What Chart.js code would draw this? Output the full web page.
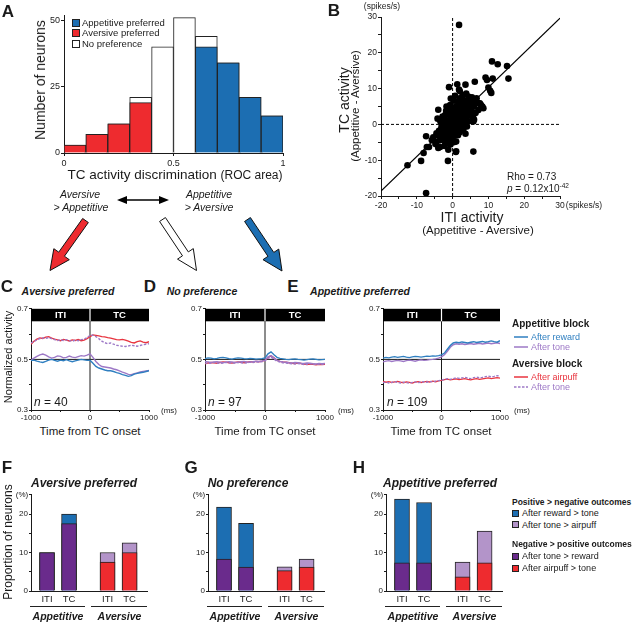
<!DOCTYPE html>
<html>
<head>
<meta charset="utf-8">
<script src="https://cdn.jsdelivr.net/npm/chart.js@4.4.0/dist/chart.umd.min.js"></script>
<style>
  body { margin: 0; background: #fff; }
  #stage { position: relative; width: 640px; height: 623px; overflow: hidden; font-family: "Liberation Sans", Arial, sans-serif; color: #1a1a1a; }
  #stage canvas { position: absolute; }
  .t { position: absolute; white-space: nowrap; line-height: 1; }
  .t sup { font-size: 0.65em; vertical-align: 0.55em; line-height: 0; }
  .sq { position: absolute; border: 1px solid #222; box-sizing: border-box; }
  svg { position: absolute; left: 0; top: 0; }
</style>
</head>
<body>
<div id="stage"></div>
<script>
// ---- A: histogram of ROC area (neuron counts per bin) ----
const rocBins = [0.05, 0.15, 0.25, 0.35, 0.45, 0.55, 0.65, 0.75, 0.85, 0.95];
const aversivePref = [3, 7, 11, 19, 0, 0, 0, 0, 0, 0];
const noPref = [0, 0, 0, 2, 40, 51, 4, 0, 0, 0];
const appetitivePref = [0, 0, 0, 0, 0, 0, 40, 34, 21, 14];

// ---- B: ITI vs TC activity difference (spikes/s) ----
const scatterPts = [
  [1.8, 27.8], [11.0, 17.6], [12.6, 16.8], [15.2, 16.3], [15.6, 12.8], [11.2, 12.8], [9.2, 13.1], [9.6, 12.4],
  [6.2, 11.9], [3.6, 11.1], [1.3, 11.2], [-1.0, 10.4], [10.0, 10.3], [10.5, 9.4], [10.8, 8.8], [2.0, 9.3],
  [0.7, 8.0], [1.8, 9.7], [-4.0, 4.1], [-4.2, 1.6], [8.6, 4.5], [7.9, 5.5], [7.5, 5.8], [6.0, 1.3],
  [5.8, -7.6], [-1.2, -7.1], [1.0, -7.5], [1.0, -4.8], [-7.4, -3.3], [-5.8, -4.4], [-7.2, -6.3], [-8.1, -8.0],
  [-1.3, -10.2], [-4.0, -6.6], [-4.8, -5.5], [-3.5, -4.4], [-12.6, -11.4], [-8.8, -10.2], [-7.4, -19.2], [-6.6, -6.3],
  [-3.5, -6.3], [-4.5, -4.9], [-2.0, -4.9], [0.9, -7.7], [6.7, 7.3], [7.6, 5.9], [8.3, 5.0], [7.2, 4.0],
  [5.3, 3.1], [5.8, 1.7], [4.4, 7.8], [3.0, 6.8], [3.9, 5.9], [2.0, 7.3], [1.6, 5.0], [-0.7, 5.4],
  [-1.7, 5.0], [-2.1, 2.6], [-2.6, 0.7], [-3.1, -0.7], [-3.3, -2.1], [-4.5, -2.5], [-5.4, -3.6],
  [-3.0, -2.5], [-2.6, -1.8], [-2.2, -3.0], [-2.0, -1.0], [-1.8, -2.2], [-1.5, -0.5], [-1.4, -1.6], [-1.2, 0.4],
  [-1.0, -1.2], [-0.9, -2.6], [-0.8, 0.8], [-0.6, -0.3], [-0.5, 1.5], [-0.4, -1.0], [-0.3, 0.2], [-0.2, 2.2],
  [-0.1, -0.6], [0.0, 0.9], [0.1, -1.8], [0.2, 1.6], [0.3, 0.3], [0.4, 2.8], [0.5, -0.4], [0.6, 1.1],
  [0.7, 3.4], [0.8, 0.0], [0.9, 2.0], [1.0, -1.0], [1.1, 1.4], [1.2, 3.0], [1.3, 0.5], [1.4, 4.2],
  [1.5, 2.3], [1.6, -0.3], [1.7, 1.0], [1.8, 3.6], [1.9, 2.6], [2.0, 0.2], [2.1, 1.8], [2.2, 4.8],
  [2.3, 3.0], [2.4, -0.8], [2.5, 2.2], [2.6, 5.6], [2.7, 1.2], [2.8, 3.8], [2.9, 0.6], [3.0, 2.6],
  [3.1, 4.4], [3.2, 1.6], [3.3, 6.2], [3.4, 3.2], [3.5, 0.2], [3.6, 2.0], [3.7, 5.0], [3.8, 3.6],
  [3.9, 1.2], [4.0, 4.2], [4.1, 6.6], [4.2, 2.4], [4.3, 5.4], [4.4, 0.8], [4.5, 3.4], [4.6, 7.0],
  [4.8, 4.6], [5.0, 2.4], [5.2, 5.8], [5.4, 3.6], [5.6, 6.6], [-2.4, 0.2], [-2.8, -0.6], [-3.2, -1.4],
  [-3.6, -3.2], [-2.5, -4.0], [-1.6, -3.4], [-0.6, -2.0], [0.4, -2.4], [-1.9, 1.2], [-0.9, 2.6], [0.1, 3.8],
  [-0.4, 4.4], [-1.3, 3.4], [0.9, 5.0], [1.6, 6.0], [2.4, 6.8], [0.6, -3.2], [1.4, -2.0], [-3.8, -1.8],
  [-4.2, -3.0], [-2.0, -5.2], [-1.2, -4.2], [-0.2, -3.8], [1.5, -3.0], [3.0, -1.5], [4.0, -0.6], [5.8, 0.8],
  [6.4, 3.2], [6.0, 5.0], [6.8, 6.2], [5.4, 7.6], [2.8, 8.2], [3.8, 8.6], [0.4, 6.6], [-0.5, 7.2],
  [-1.8, 3.8], [-2.8, 2.2], [-3.4, 0.8], [-2.2, -6.0], [-0.6, -5.6], [0.3, -5.0], [2.0, -2.2], [3.6, -2.6]
];
const fitLineX = [-20, 30];
const fitLineY = [-18.6, 29.7];
const rhoText = 'Rho = 0.73';

// ---- C-E: normalized activity, 50 ms steps ----
const timeMs = [-1000, -950, -900, -850, -800, -750, -700, -650, -600, -550, -500, -450, -400, -350, -300, -250, -200, -150, -100, -50, 0,
  50, 100, 150, 200, 250, 300, 350, 400, 450, 500, 550, 600, 650, 700, 750, 800, 850, 900, 950, 1000];

const cReward = [0.495, 0.497, 0.493, 0.490, 0.488, 0.492, 0.497, 0.500, 0.496, 0.493, 0.497, 0.495, 0.499, 0.494, 0.491, 0.494, 0.497, 0.500, 0.498, 0.496, 0.497,
  0.485, 0.472, 0.466, 0.462, 0.458, 0.455, 0.455, 0.452, 0.448, 0.445, 0.440, 0.437, 0.433, 0.436, 0.442, 0.445, 0.447, 0.449, 0.452, 0.455];
const cAppTone = [0.497, 0.505, 0.512, 0.518, 0.521, 0.517, 0.510, 0.505, 0.508, 0.514, 0.512, 0.506, 0.508, 0.513, 0.509, 0.507, 0.511, 0.515, 0.513, 0.517, 0.522,
  0.508, 0.492, 0.480, 0.472, 0.470, 0.468, 0.466, 0.462, 0.459, 0.455, 0.450, 0.446, 0.441, 0.440, 0.444, 0.447, 0.450, 0.452, 0.454, 0.456];
const cAirpuff = [0.560, 0.572, 0.580, 0.585, 0.583, 0.588, 0.590, 0.584, 0.580, 0.577, 0.574, 0.579, 0.576, 0.573, 0.577, 0.575, 0.579, 0.574, 0.576, 0.582, 0.590,
  0.597, 0.595, 0.593, 0.590, 0.589, 0.586, 0.584, 0.581, 0.578, 0.577, 0.579, 0.576, 0.572, 0.567, 0.565, 0.570, 0.573, 0.568, 0.566, 0.570];
const cAveTone = [0.565, 0.570, 0.578, 0.582, 0.585, 0.583, 0.586, 0.582, 0.578, 0.575, 0.577, 0.575, 0.578, 0.574, 0.572, 0.576, 0.574, 0.578, 0.580, 0.586, 0.595,
  0.596, 0.590, 0.582, 0.572, 0.566, 0.562, 0.565, 0.560, 0.556, 0.554, 0.552, 0.551, 0.553, 0.556, 0.554, 0.552, 0.555, 0.558, 0.560, 0.562];

const dReward = [0.503, 0.506, 0.505, 0.502, 0.504, 0.507, 0.508, 0.506, 0.503, 0.501, 0.504, 0.506, 0.505, 0.503, 0.502, 0.504, 0.503, 0.501, 0.502, 0.503, 0.506,
  0.522, 0.530, 0.518, 0.508, 0.504, 0.502, 0.500, 0.499, 0.501, 0.502, 0.500, 0.499, 0.497, 0.499, 0.501, 0.502, 0.500, 0.498, 0.499, 0.500];
const dAppTone = [0.492, 0.490, 0.488, 0.490, 0.491, 0.489, 0.487, 0.489, 0.491, 0.490, 0.488, 0.489, 0.491, 0.492, 0.490, 0.489, 0.491, 0.493, 0.492, 0.494, 0.497,
  0.510, 0.515, 0.505, 0.496, 0.492, 0.490, 0.489, 0.487, 0.486, 0.488, 0.487, 0.485, 0.484, 0.486, 0.485, 0.483, 0.482, 0.484, 0.483, 0.484];
const dAirpuff = [0.482, 0.486, 0.488, 0.487, 0.485, 0.488, 0.490, 0.489, 0.487, 0.486, 0.488, 0.490, 0.489, 0.487, 0.489, 0.491, 0.490, 0.492, 0.491, 0.493, 0.496,
  0.508, 0.514, 0.506, 0.496, 0.492, 0.490, 0.489, 0.487, 0.485, 0.484, 0.486, 0.484, 0.482, 0.480, 0.482, 0.481, 0.479, 0.481, 0.480, 0.481];
const dAveTone = [0.486, 0.484, 0.486, 0.488, 0.486, 0.484, 0.486, 0.488, 0.487, 0.485, 0.486, 0.488, 0.487, 0.485, 0.487, 0.489, 0.488, 0.490, 0.489, 0.491, 0.494,
  0.504, 0.509, 0.501, 0.493, 0.489, 0.487, 0.486, 0.484, 0.483, 0.482, 0.484, 0.482, 0.480, 0.481, 0.483, 0.482, 0.480, 0.482, 0.481, 0.482];

const eReward = [0.505, 0.508, 0.506, 0.509, 0.511, 0.508, 0.510, 0.512, 0.509, 0.507, 0.510, 0.512, 0.511, 0.509, 0.511, 0.513, 0.512, 0.514, 0.513, 0.515, 0.518,
  0.525, 0.540, 0.555, 0.565, 0.568, 0.566, 0.569, 0.567, 0.565, 0.568, 0.570, 0.567, 0.569, 0.571, 0.568, 0.570, 0.573, 0.570, 0.568, 0.574];
const eAppTone = [0.490, 0.493, 0.495, 0.492, 0.494, 0.496, 0.494, 0.492, 0.495, 0.497, 0.495, 0.493, 0.496, 0.498, 0.496, 0.497, 0.499, 0.500, 0.502, 0.505, 0.510,
  0.518, 0.532, 0.548, 0.558, 0.562, 0.560, 0.562, 0.559, 0.561, 0.563, 0.560, 0.562, 0.564, 0.561, 0.563, 0.565, 0.562, 0.564, 0.566, 0.563];
const eAirpuff = [0.413, 0.410, 0.412, 0.409, 0.411, 0.413, 0.410, 0.408, 0.411, 0.409, 0.407, 0.410, 0.412, 0.409, 0.411, 0.413, 0.411, 0.414, 0.412, 0.415, 0.417,
  0.420, 0.422, 0.419, 0.421, 0.423, 0.420, 0.422, 0.424, 0.421, 0.419, 0.422, 0.424, 0.421, 0.423, 0.425, 0.427, 0.424, 0.426, 0.428, 0.426];
const eAveTone = [0.408, 0.410, 0.407, 0.409, 0.412, 0.409, 0.407, 0.410, 0.408, 0.406, 0.409, 0.411, 0.408, 0.410, 0.412, 0.410, 0.413, 0.411, 0.414, 0.416, 0.418,
  0.421, 0.424, 0.421, 0.424, 0.427, 0.425, 0.427, 0.429, 0.426, 0.424, 0.428, 0.430, 0.427, 0.429, 0.432, 0.434, 0.431, 0.433, 0.436, 0.434];

// ---- F-H: proportion of neurons (%), [ITI, TC] ----
const barCats = ['ITI', 'TC', 'ITI', 'TC'];
const barGroups = ['Appetitive', 'Aversive'];
const fToneGtReward = [10.0, 17.5];
const fRewardGtTone = [0.0, 2.5];
const fAirpuffGtTone = [7.5, 10.0];
const fToneGtAirpuff = [2.5, 2.5];
const gToneGtReward = [8.3, 6.2];
const gRewardGtTone = [13.5, 11.4];
const gAirpuffGtTone = [5.3, 6.2];
const gToneGtAirpuff = [1.0, 2.1];
const hToneGtReward = [7.3, 7.3];
const hRewardGtTone = [16.6, 15.7];
const hAirpuffGtTone = [3.7, 7.3];
const hToneGtAirpuff = [3.8, 8.3];

// colours
const INK = '#1a1a1a';
const C_BLUE = '#1c6eb2';
const C_RED = '#ee2b2f';
const C_PURPLE = '#6a2b8c';
const C_LPURPLE = '#b394c9';
const L_BLUE = '#2f7fc0';
const L_PURPLE = '#9d78c6';
const L_RED = '#e8343f';

// bar centres on a 0-10 axis (layout only)
const BAR_X = [1.38, 3.28, 6.6, 8.5];

Chart.defaults.font.family = '"Liberation Sans", Arial, sans-serif';
Chart.defaults.color = INK;

const stage = document.getElementById('stage');

function placeChart(area, margins, config) {
  const [L, T, R, B] = area;
  const [ml, mt, mr, mb] = margins;
  const w = R - L + ml + mr, h = B - T + mt + mb;
  const cv = document.createElement('canvas');
  cv.width = w; cv.height = h;
  cv.style.left = (L - ml) + 'px';
  cv.style.top = (T - mt) + 'px';
  cv.style.width = w + 'px';
  cv.style.height = h + 'px';
  stage.appendChild(cv);
  const o = config.options;
  o.responsive = false;
  o.animation = false;
  o.devicePixelRatio = 1;
  o.layout = { padding: { left: 0, top: mt, right: mr, bottom: 0 } };
  o.plugins = { legend: { display: false }, tooltip: { enabled: false } };
  o.scales.x.afterFit = s => { s.height = mb; };
  o.scales.y.afterFit = s => { s.width = ml; };
  return new Chart(cv, config);
}

function linAxis(min, max, tickVals, fmt, opt = {}) {
  return {
    type: 'linear', min, max, offset: false,
    afterBuildTicks: s => { s.ticks = tickVals.map(v => ({ value: v })); },
    ticks: { callback: fmt, autoSkip: false, maxRotation: 0, font: { size: opt.size || 8 }, color: INK, padding: opt.pad ?? 1 },
    grid: { display: true, drawOnChartArea: false, drawTicks: opt.drawTicks ?? true, tickLength: opt.tl ?? 3, tickColor: INK, offset: false },
    border: { display: true, color: INK, width: 1 }
  };
}

const only = list => v => (list.includes(v) ? String(v) : '');

function txt(html, x, y, o = {}) {
  const d = document.createElement('div');
  d.className = 't';
  d.innerHTML = html;
  d.style.left = x + 'px';
  d.style.top = y + 'px';
  d.style.fontSize = (o.size || 10) + 'px';
  if (o.bold) d.style.fontWeight = 'bold';
  if (o.italic) d.style.fontStyle = 'italic';
  if (o.color) d.style.color = o.color;
  const ax = o.align === 'left' ? '0' : o.align === 'right' ? '-100%' : '-50%';
  d.style.transform = `translate(${ax}, -50%)` + (o.rotate ? ` rotate(${o.rotate}deg)` : '');
  stage.appendChild(d);
}

function square(x, y, size, color) {
  const d = document.createElement('div');
  d.className = 'sq';
  d.style.left = x + 'px';
  d.style.top = (y - size / 2) + 'px';
  d.style.width = size + 'px';
  d.style.height = size + 'px';
  d.style.background = color;
  stage.appendChild(d);
}

// ---------- A ----------
const histTotal = rocBins.map((_, i) => aversivePref[i] + noPref[i] + appetitivePref[i]);
const toBars = arr => rocBins.map((x, i) => (arr[i] ? { x, y: arr[i] } : null)).filter(Boolean);
const histBar = (arr, color, order) => ({
  data: toBars(arr), backgroundColor: color, borderColor: '#222', borderWidth: 1,
  barPercentage: 1, categoryPercentage: 1, grouped: false, order
});
placeChart([64, 15, 283, 153], [30, 8, 10, 16], {
  type: 'bar',
  data: { datasets: [histBar(aversivePref, C_RED, 0), histBar(appetitivePref, C_BLUE, 0), histBar(histTotal, '#fff', 1)] },
  options: {
    scales: {
      x: linAxis(0, 1, [0, 0.5, 1], v => String(v), { size: 9, pad: 2 }),
      y: linAxis(0, 52, [0, 25, 50], v => String(v), { size: 9 })
    }
  }
});
square(72, 22.5, 8, C_BLUE);
square(72, 33, 8, C_RED);
square(72, 43.5, 8, '#fff');
txt('Appetitive preferred', 82, 22.5, { size: 9.5, align: 'left' });
txt('Aversive preferred', 82, 33, { size: 9.5, align: 'left' });
txt('No preference', 82, 43.5, { size: 9.5, align: 'left' });
txt('Number of neurons', 40, 80, { size: 14, rotate: -90 });
txt('TC activity discrimination <span style="font-size:12px">(ROC area)</span>', 175, 175, { size: 13.5 });
txt('Aversive', 80, 194, { size: 10.5, italic: true });
txt('&gt; Appetitive', 81, 207, { size: 10.5, italic: true });
txt('Appetitive', 209, 194, { size: 10.5, italic: true });
txt('&gt; Aversive', 209, 207, { size: 10.5, italic: true });

// ---------- B ----------
const tens = only([-20, -10, 0, 10, 20, 30]);
const fives = [-20, -15, -10, -5, 0, 5, 10, 15, 20, 25, 30];
placeChart([381, 17, 560, 196], [24, 8, 10, 14], {
  type: 'scatter',
  data: {
    datasets: [
      { data: scatterPts.map(([x, y]) => ({ x, y })), pointRadius: 3.3, pointBackgroundColor: '#000', pointBorderWidth: 0, showLine: false },
      { data: fitLineX.map((x, i) => ({ x, y: fitLineY[i] })), showLine: true, pointRadius: 0, borderColor: '#000', borderWidth: 1.2 },
      { data: [{ x: 0, y: -20 }, { x: 0, y: 30 }], showLine: true, pointRadius: 0, borderColor: '#000', borderWidth: 1, borderDash: [3, 2] },
      { data: [{ x: -20, y: 0 }, { x: 30, y: 0 }], showLine: true, pointRadius: 0, borderColor: '#000', borderWidth: 1, borderDash: [3, 2] }
    ]
  },
  options: {
    scales: {
      x: linAxis(-20, 30, fives, tens, { size: 8.5, pad: 2 }),
      y: linAxis(-20, 30, fives, tens, { size: 8.5 })
    }
  }
});
txt('(spikes/s)', 382, 6, { size: 8.5 });
txt('(spikes/s)', 584, 205, { size: 8.5 });
txt(rhoText, 507, 177, { size: 10, align: 'left' });
txt('<i>p</i> = 0.12x10<sup>-42</sup>', 507, 189, { size: 10, align: 'left' });
txt('ITI activity', 472, 217, { size: 14 });
txt('(Appetitive - Aversive)', 478, 231, { size: 11.5 });
txt('TC activity', 344, 100, { size: 14, rotate: -90 });
txt('(Appetitive - Aversive)', 356, 106, { size: 11.5, rotate: -90 });

// ---------- C-E ----------
const headerBar = {
  id: 'headerBar',
  afterDatasetsDraw(chart) {
    const { ctx, chartArea: a, scales: { x } } = chart;
    const x0 = x.getPixelForValue(0);
    ctx.save();
    ctx.fillStyle = '#000';
    ctx.fillRect(a.left, a.top, a.right - a.left, 12.5);
    ctx.fillStyle = '#fff';
    ctx.fillRect(x0 - 0.6, a.top, 1.2, 12.5);
    ctx.font = 'bold 9.5px "Liberation Sans", Arial, sans-serif';
    ctx.textAlign = 'center';
    ctx.textBaseline = 'middle';
    ctx.fillText('ITI', (a.left + x0) / 2, a.top + 6.8);
    ctx.fillText('TC', (x0 + a.right) / 2, a.top + 6.8);
    ctx.restore();
  }
};
const series = arr => timeMs.map((t, i) => ({ x: t, y: arr[i] }));
function tracePanel(area, rew, tone, puff, atone) {
  const ds = (arr, color, dash) => ({ data: series(arr), borderColor: color, borderWidth: 1.4, borderDash: dash || [], pointRadius: 0, tension: 0 });
  return placeChart(area, [26, 4, 16, 14], {
    type: 'line',
    data: {
      datasets: [
        ds(rew, L_BLUE), ds(tone, L_PURPLE), ds(atone, L_PURPLE, [2.5, 1.5]), ds(puff, L_RED),
        { data: [{ x: -1000, y: 0.5 }, { x: 1000, y: 0.5 }], borderColor: INK, borderWidth: 1, pointRadius: 0 },
        { data: [{ x: 0, y: 0.3 }, { x: 0, y: 0.7 }], borderColor: INK, borderWidth: 1, pointRadius: 0 }
      ]
    },
    options: {
      scales: {
        x: linAxis(-1000, 1000, [-1000, -500, 0, 500, 1000], only([-1000, 0, 1000]), { tl: 2 }),
        y: linAxis(0.3, 0.7, [0.3, 0.4, 0.5, 0.6, 0.7], only([0.3, 0.5, 0.7]), { tl: 2 })
      }
    },
    plugins: [headerBar]
  });
}
tracePanel([31, 307, 149, 410], cReward, cAppTone, cAirpuff, cAveTone);
tracePanel([205, 307, 325, 410], dReward, dAppTone, dAirpuff, dAveTone);
tracePanel([383, 307, 500, 410], eReward, eAppTone, eAirpuff, eAveTone);

txt('Aversive preferred', 68, 291, { size: 10.5, bold: true, italic: true });
txt('No preference', 202, 291, { size: 10.5, bold: true, italic: true });
txt('Appetitive preferred', 360, 291, { size: 10.5, bold: true, italic: true });
txt('Normalized activity', 8, 357, { size: 11, rotate: -90 });
[[90, 169, 34, '40'], [265, 346, 208, '97'], [441, 522, 387, '109']].forEach(([cx, msx, nx, n]) => {
  txt('Time from TC onset', cx, 432, { size: 11.5 });
  txt('(ms)', msx, 411, { size: 8 });
  txt('<i>n</i> = ' + n, nx, 402, { size: 12, align: 'left' });
});
txt('Appetitive block', 512, 324, { size: 10, bold: true, align: 'left' });
txt('After reward', 531, 337, { size: 9, color: L_BLUE, align: 'left' });
txt('After tone', 531, 347, { size: 9, color: L_PURPLE, align: 'left' });
txt('Aversive block', 512, 364, { size: 10, bold: true, align: 'left' });
txt('After airpuff', 531, 377, { size: 9, color: L_RED, align: 'left' });
txt('After tone', 531, 387, { size: 9, color: L_PURPLE, align: 'left' });

// ---------- F-H ----------
function propPanel(area, toneRew, rewTone, puffTone, toneAir) {
  const L = area[0];
  const pts = (xs, ys) => xs.map((x, i) => ({ x, y: ys[i] }));
  const appX = BAR_X.slice(0, 2), aveX = BAR_X.slice(2);
  const bar = (data, color, order) => ({ data, backgroundColor: color, borderColor: '#222', borderWidth: 1, barThickness: 15, grouped: false, order });
  placeChart(area, [26, 4, 6, 16], {
    type: 'bar',
    data: {
      datasets: [
        bar(pts(appX, toneRew), C_PURPLE, 0),
        bar(pts(aveX, puffTone), C_RED, 0),
        bar(pts(appX, toneRew.map((v, i) => v + rewTone[i])), C_BLUE, 1),
        bar(pts(aveX, puffTone.map((v, i) => v + toneAir[i])), C_LPURPLE, 1)
      ]
    },
    options: {
      scales: {
        x: linAxis(0, 10, BAR_X, (v, i) => barCats[i], { size: 9.5, drawTicks: false, pad: 3 }),
        y: linAxis(0, 25, [0, 5, 10, 15, 20, 25], only([0, 10, 20]), { tl: 2 })
      }
    }
  });
  txt('(%)', L - 9, 495, { size: 8 });
  txt(barGroups[0], L + 27, 616, { size: 10.5, bold: true, italic: true });
  txt(barGroups[1], L + 88.5, 616, { size: 10.5, bold: true, italic: true });
  return L;
}
const panelLefts = [
  propPanel([31, 493, 147, 591], fToneGtReward, fRewardGtTone, fAirpuffGtTone, fToneGtAirpuff),
  propPanel([208, 493, 324, 591], gToneGtReward, gRewardGtTone, gAirpuffGtTone, gToneGtAirpuff),
  propPanel([386, 493, 502, 591], hToneGtReward, hRewardGtTone, hAirpuffGtTone, hToneGtAirpuff)
];
txt('Proportion of neurons', 8, 542, { size: 12, rotate: -90 });
txt('Aversive preferred', 84, 483, { size: 12, bold: true, italic: true });
txt('No preference', 248, 483, { size: 12, bold: true, italic: true });
txt('Appetitive preferred', 440, 483, { size: 12, bold: true, italic: true });

txt('Positive &gt; negative outcomes', 512, 502, { size: 8.5, bold: true, align: 'left' });
square(512, 513, 7, C_BLUE);
txt('After reward &gt; tone', 522, 513, { size: 9, align: 'left' });
square(512, 524.5, 7, C_LPURPLE);
txt('After tone &gt; airpuff', 522, 524.5, { size: 9, align: 'left' });
txt('Negative &gt; positive outcomes', 512, 544, { size: 8.5, bold: true, align: 'left' });
square(512, 556, 7, C_PURPLE);
txt('After tone &gt; reward', 522, 556, { size: 9, align: 'left' });
square(512, 568, 7, C_RED);
txt('After airpuff &gt; tone', 522, 568, { size: 9, align: 'left' });

// panel letters
[['A', 8, 11], ['B', 334, 10], ['C', 7, 286], ['D', 150, 286], ['E', 293, 286],
 ['F', 7, 467], ['G', 191, 467], ['H', 359, 467]].forEach(([s, x, y]) => txt(s, x, y, { size: 17, bold: true }));

// ---------- overlay: arrows, legend lines, group rules ----------
const NS = 'http://www.w3.org/2000/svg';
const svg = document.createElementNS(NS, 'svg');
svg.setAttribute('width', 640);
svg.setAttribute('height', 623);
stage.appendChild(svg);
function el(name, attrs) {
  const e = document.createElementNS(NS, name);
  for (const k in attrs) e.setAttribute(k, attrs[k]);
  svg.appendChild(e);
  return e;
}
function bigArrow(x1, y1, x2, y2, fill) {
  const dx = x2 - x1, dy = y2 - y1, len = Math.hypot(dx, dy);
  const ux = dx / len, uy = dy / len, nx = -uy, ny = ux;
  const sw = 3.5, hw = 9.5, hl = 20;
  const bx = x2 - ux * hl, by = y2 - uy * hl;
  const p = [[x1 + nx * sw, y1 + ny * sw], [bx + nx * sw, by + ny * sw], [bx + nx * hw, by + ny * hw], [x2, y2],
    [bx - nx * hw, by - ny * hw], [bx - nx * sw, by - ny * sw], [x1 - nx * sw, y1 - ny * sw]];
  el('polygon', { points: p.map(q => q.join(',')).join(' '), fill, stroke: '#111', 'stroke-width': 1 });
}
bigArrow(85.5, 220.5, 50, 270.5, C_RED);
bigArrow(162.5, 219.5, 196.5, 270.5, '#fff');
bigArrow(247.5, 219.5, 282, 271, C_BLUE);
// double arrow
el('line', { x1: 124, y1: 200, x2: 162, y2: 200, stroke: '#000', 'stroke-width': 1.6 });
el('polygon', { points: '117,200 127,196 127,204', fill: '#000' });
el('polygon', { points: '169,200 159,196 159,204', fill: '#000' });
// legend lines C-E
el('line', { x1: 514, y1: 337, x2: 528, y2: 337, stroke: L_BLUE, 'stroke-width': 1.5 });
el('line', { x1: 514, y1: 347, x2: 528, y2: 347, stroke: L_PURPLE, 'stroke-width': 1.5 });
el('line', { x1: 514, y1: 377, x2: 528, y2: 377, stroke: L_RED, 'stroke-width': 1.5 });
el('line', { x1: 514, y1: 387, x2: 528, y2: 387, stroke: L_PURPLE, 'stroke-width': 1.5, 'stroke-dasharray': '2.5,1.5' });
// group rules F-H
panelLefts.forEach(L => {
  el('line', { x1: L - 1, y1: 606.5, x2: L + 54, y2: 606.5, stroke: '#222', 'stroke-width': 1 });
  el('line', { x1: L + 60, y1: 606.5, x2: L + 116, y2: 606.5, stroke: '#222', 'stroke-width': 1 });
});
</script>
</body>
</html>
